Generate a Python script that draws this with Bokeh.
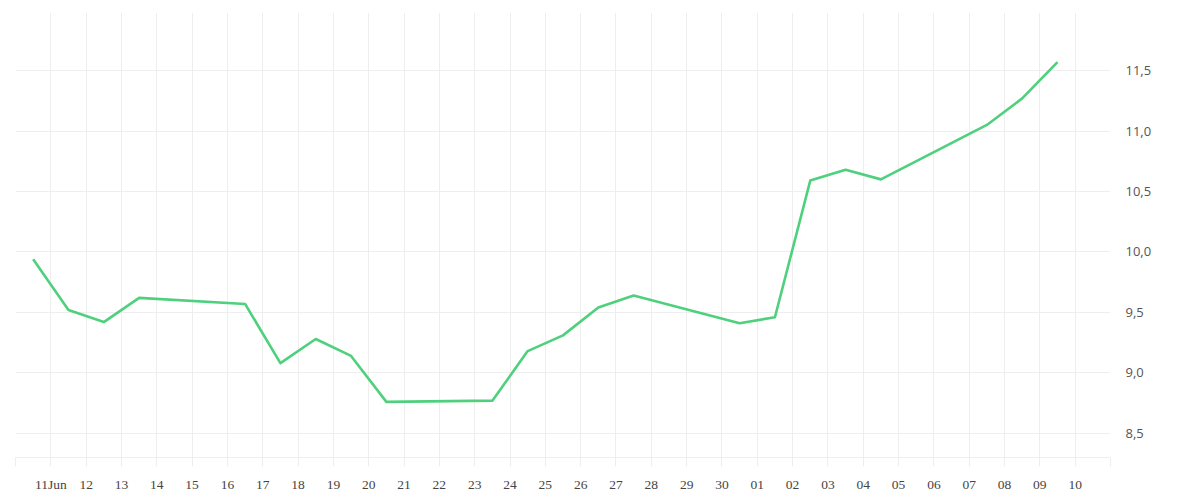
from datetime import datetime, timedelta
from bokeh.plotting import figure
from bokeh.models import Range1d, FixedTicker, CustomJSTickFormatter, LinearAxis, ColumnDataSource
from bokeh.embed import file_html
from bokeh.resources import INLINE

# ---- data ----
dates = ["2025-06-10", "2025-06-11", "2025-06-12", "2025-06-13", "2025-06-16",
         "2025-06-17", "2025-06-18", "2025-06-19", "2025-06-20", "2025-06-23",
         "2025-06-24", "2025-06-25", "2025-06-26", "2025-06-27", "2025-06-30",
         "2025-07-01", "2025-07-02", "2025-07-03", "2025-07-04", "2025-07-07",
         "2025-07-08", "2025-07-09"]
values = [9.94, 9.52, 9.42, 9.62, 9.57,
          9.08, 9.28, 9.14, 8.76, 8.77,
          9.18, 9.31, 9.54, 9.64, 9.41,
          9.46, 10.59, 10.68, 10.60, 11.05,
          11.27, 11.57]
tick_days = ["2025-06-10", "2025-06-11", "2025-06-12", "2025-06-13", "2025-06-14",
             "2025-06-15", "2025-06-16", "2025-06-17", "2025-06-18", "2025-06-19",
             "2025-06-20", "2025-06-21", "2025-06-22", "2025-06-23", "2025-06-24",
             "2025-06-25", "2025-06-26", "2025-06-27", "2025-06-28", "2025-06-29",
             "2025-06-30", "2025-07-01", "2025-07-02", "2025-07-03", "2025-07-04",
             "2025-07-05", "2025-07-06", "2025-07-07", "2025-07-08", "2025-07-09",
             "2025-07-10", "2025-07-11"]
tick_labels = ["", "11Jun", "12", "13", "14", "15", "16", "17", "18", "19",
               "20", "21", "22", "23", "24", "25", "26", "27", "28", "29",
               "30", "01", "02", "03", "04", "05", "06", "07", "08", "09",
               "10", ""]
y_ticks = [8.5, 9.0, 9.5, 10.0, 10.5, 11.0, 11.5]

def to_dt(s):
    return datetime.strptime(s, "%Y-%m-%d")

EPOCH = datetime(1970, 1, 1)
def to_ms(d):
    return (d - EPOCH).total_seconds() * 1000.0

x = [to_dt(d) + timedelta(hours=12) for d in dates]
src = ColumnDataSource(dict(x=x, y=values))
tick_ms = [to_ms(to_dt(d)) for d in tick_days]

p = figure(width=1184, height=494, x_axis_type="datetime",
           x_range=Range1d(to_dt(tick_days[0]), to_dt(tick_days[-1])),
           y_range=Range1d(8.30, 11.98),
           output_backend="svg", toolbar_location=None,
           y_axis_location=None,
           min_border_left=15, min_border_right=74, min_border_top=12, min_border_bottom=36)
p.outline_line_color = None
p.background_fill_color = "white"
p.border_fill_color = "white"

p.line("x", "y", source=src, line_color="#4fd07d", line_width=2.6, line_join="round")

# x axis
xa = p.xaxis[0]
xa.ticker = FixedTicker(ticks=tick_ms)
xa.formatter = CustomJSTickFormatter(args=dict(tpos=tick_ms, tlab=tick_labels), code="""
    for (let i = 0; i < tpos.length; i++) {
        if (Math.abs(tpos[i] - tick) < 1000) { return tlab[i]; }
    }
    return "";
""")
xa.axis_line_color = "#eeeeee"
xa.major_tick_line_color = "#eeeeee"
xa.major_tick_out = 9
xa.major_tick_in = 0
xa.minor_tick_line_color = None
xa.major_label_standoff = 10
xa.major_label_text_font = "Liberation Serif"
xa.major_label_text_font_size = "13.5px"
xa.major_label_text_color = "#444444"

# y axis on right
ya = LinearAxis(ticker=FixedTicker(ticks=y_ticks))
ya.formatter = CustomJSTickFormatter(code="return tick.toFixed(1).replace('.', ',');")
ya.axis_line_color = None
ya.major_tick_line_color = None
ya.minor_tick_line_color = None
ya.major_tick_out = 0
ya.major_tick_in = 0
ya.major_label_standoff = 15
ya.major_label_text_font = "Open Sans"
ya.major_label_text_font_size = "13px"
ya.major_label_text_color = "#555555"
p.add_layout(ya, "right")

p.xgrid.ticker = FixedTicker(ticks=tick_ms)
p.xgrid.grid_line_color = "#eeeeee"
p.ygrid.grid_line_color = "#eeeeee"
p.ygrid.ticker = FixedTicker(ticks=y_ticks)

open("out.html", "w").write(file_html(p, INLINE))
